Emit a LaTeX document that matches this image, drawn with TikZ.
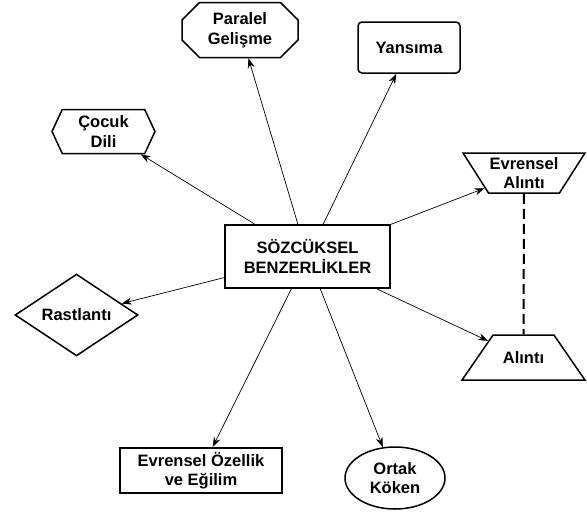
\documentclass[tikz,border=0pt]{standalone}
\usepackage{fontspec}
\setmainfont{Liberation Sans}
\usetikzlibrary{shapes.geometric,shapes.misc,shapes.symbols,arrows.meta}
\newcommand{\fw}[2]{\makebox[#1]{#2}}
\begin{document}
\begin{tikzpicture}[x=1pt,y=-1pt,
  box/.style={font=\fontsize{16.5}{19.5}\selectfont\bfseries, align=center, inner sep=0pt, draw, line width=1.5pt},
  conn/.style={line width=0.7pt, -{Stealth[length=10pt,width=7pt]}},
  link/.style={line width=2pt, dash pattern=on 10pt off 5pt}]
\useasboundingbox (0,0) rectangle (587,515);
\node[box, line width=2.2pt, minimum width=165pt, minimum height=63pt] (c) at (307.5,256.5) {SÖZCÜKSEL\\BENZERLİKLER};
\node[box, chamfered rectangle, chamfered rectangle xsep=14pt, minimum width=116pt, minimum height=55pt] (p) at (240,30) {Paralel\\Gelişme};
\node[box, rounded corners=4pt, minimum width=102pt, minimum height=51pt] (y) at (409,47.5) {Yansıma};
\node[box, signal, signal to=west and east, signal pointer angle=130, minimum width=103pt, minimum height=44pt] (cd) at (103.5,131.5) {Çocuk\\Dili};
\node[box, trapezium, trapezium stretches=true, trapezium left angle=57, trapezium right angle=57, shape border rotate=180, text height=33.75pt, text depth=2.25pt, minimum width=122pt, minimum height=40pt] (ea) at (524,173) {\fw{65pt}{Evrensel}\\\fw{65pt}{Alıntı}};
\node[box, trapezium, trapezium stretches=true, trapezium left angle=55, trapezium right angle=55, text height=12pt, text depth=0pt, minimum width=123pt, minimum height=45pt] (a) at (523.5,357.5) {\fw{16.5pt}{Alıntı}};
\node[box, diamond, minimum width=123pt, minimum height=74pt] (r) at (76.5,315) {Rastlantı};
\node[box, line width=2pt, minimum width=162pt, minimum height=45pt] (eo) at (201,470.5) {Evrensel Özellik\\ve Eğilim};
\node[box, ellipse, minimum width=100pt, minimum height=62pt] (o) at (395,478) {Ortak\\Köken};
\draw[conn] (c) -- (p);
\draw[conn] (c) -- (y);
\draw[conn] (c) -- (cd);
\draw[conn] (c) -- (ea);
\draw[conn] (c) -- (a);
\draw[conn] (c) -- (r);
\draw[conn] (c) -- (eo);
\draw[conn] (c) -- (o);
\draw[link] (ea) -- (a);
\end{tikzpicture}
\end{document}
